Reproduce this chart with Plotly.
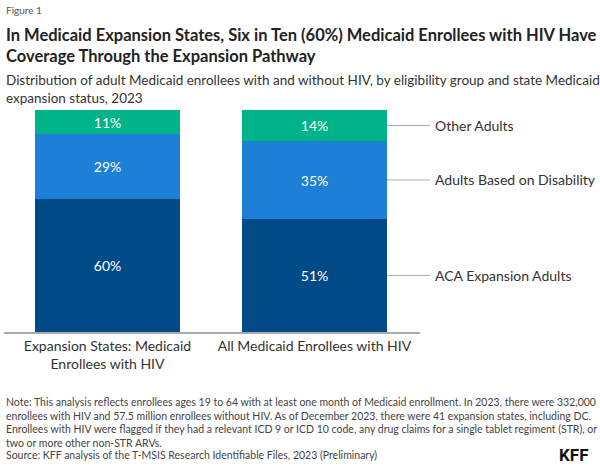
import plotly.graph_objects as go

categories = ["Expansion States: Medicaid<br>Enrollees with HIV", "All Medicaid Enrollees with HIV"]
series_names = ["ACA Expansion Adults", "Adults Based on Disability", "Other Adults"]
aca = [60, 51]
disability = [29, 35]
other = [11, 14]
colors = ["#004A87", "#1D7FD5", "#00B388"]

FONT = "Lato"
W, H = 600, 467

fig = go.Figure()
for name, vals, col in zip(series_names, [aca, disability, other], colors):
    fig.add_trace(go.Bar(
        x=[0, 1], y=vals, name=name, marker=dict(color=col, line=dict(width=0)),
        width=0.7, text=[f"{v}%" for v in vals], textposition="inside",
        insidetextanchor="middle", textangle=0,
        textfont=dict(color="white", size=14, family=FONT),
        hoverinfo="skip"))

# right-side labels attached to second bar
cum = 0
for name, vals in zip(series_names, [aca, disability, other]):
    mid = cum + vals[1] / 2
    cum += vals[1]
    fig.add_shape(type="line", xref="paper", yref="y", x0=387 / W, x1=430 / W,
                  y0=mid, y1=mid, line=dict(color="#AAAAAA", width=1))
    fig.add_annotation(xref="paper", yref="y", x=433 / W, y=mid, text=name,
                       showarrow=False, xanchor="left", yanchor="middle",
                       font=dict(size=14, color="#333333", family=FONT))

ann = [
    dict(x=4 / W, y=1 - 10 / H, text="Figure 1", size=10, color="#555555"),
    dict(x=4 / W, y=1 - 46 / H,
         text="<b>In Medicaid Expansion States, Six in Ten (60%) Medicaid Enrollees with HIV Have<br>Coverage Through the Expansion Pathway</b>",
         size=16.5, color="#222222"),
    dict(x=4 / W, y=1 - 89 / H,
         text="Distribution of adult Medicaid enrollees with and without HIV, by eligibility group and state Medicaid<br>expansion status, 2023",
         size=13.5, color="#333333"),
    dict(x=4 / W, y=1 - 422 / H,
         text="Note: This analysis reflects enrollees ages 19 to 64 with at least one month of Medicaid enrollment. In 2023, there were 332,000<br>"
              "enrollees with HIV and 57.5 million enrollees without HIV. As of December 2023, there were 41 expansion states, including DC.<br>"
              "Enrollees with HIV were flagged if they had a relevant ICD 9 or ICD 10 code, any drug claims for a single tablet regiment (STR), or<br>"
              "two or more other non-STR ARVs.",
         size=10.5, color="#444444"),
    dict(x=4 / W, y=1 - 455 / H,
         text="Source: KFF analysis of the T-MSIS Research Identifiable Files, 2023 (Preliminary)",
         size=10.5, color="#444444"),
]
for a in ann:
    fig.add_annotation(xref="paper", yref="paper", x=a["x"], y=a["y"], text=a["text"],
                       showarrow=False, xanchor="left", yanchor="middle", align="left",
                       font=dict(size=a["size"], color=a["color"], family=FONT))
fig.add_annotation(xref="paper", yref="paper", x=590 / W, y=1 - 455 / H, text="<b>KFF</b>",
                   showarrow=False, xanchor="right", yanchor="middle",
                   font=dict(size=17, color="#111111", family="Roboto"))

fig.update_layout(
    width=W, height=H, margin=dict(l=0, r=0, t=0, b=0),
    paper_bgcolor="white", plot_bgcolor="white",
    barmode="stack", showlegend=False, bargap=0,
    font=dict(family=FONT),
    xaxis=dict(domain=[4 / W, 420 / W], range=[-0.5, 1.51], tickvals=[0, 1],
               ticktext=categories, showline=True, linecolor="#AAAAAA", linewidth=1.5,
               showgrid=False, zeroline=False, ticks="",
               tickfont=dict(size=14, color="#333333", family=FONT)),
    yaxis=dict(domain=[(H - 332) / H, (H - 110) / H], range=[0, 100], visible=False),
)

fig.write_html("out.html")
